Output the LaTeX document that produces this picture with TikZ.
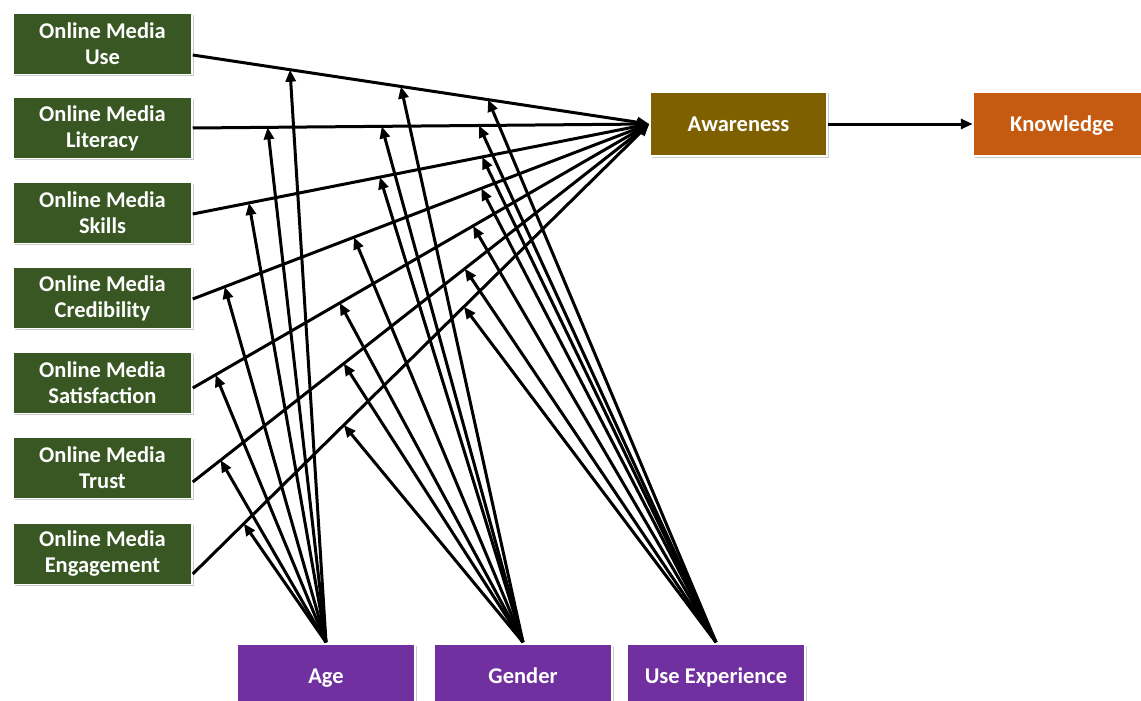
\documentclass[tikz,border=0pt]{standalone}
\usepackage{fontspec}
\setmainfont{Carlito}
\usetikzlibrary{calc,arrows.meta,shadows}
\definecolor{boxgreen}{HTML}{385723}
\definecolor{awbrown}{HTML}{7F6000}
\definecolor{knorange}{HTML}{C55A11}
\definecolor{modpurple}{HTML}{7030A0}
\tikzset{
  box/.style={draw=white, line width=1.5pt, text=white,
    font=\fontsize{22.5}{26}\selectfont\bfseries, align=center, inner sep=0pt,
    drop shadow={shadow xshift=1.5pt, shadow yshift=-1.5pt, fill=black!45, opacity=0.45}},
  factor/.style={box, fill=boxgreen, minimum width=179pt, minimum height=61pt},
  single/.style={box, text height=17pt, text depth=3pt},
  outcome/.style={single, minimum width=177pt, minimum height=64pt},
  moder/.style={single, fill=modpurple, minimum width=178pt, minimum height=64pt},
  arr/.style={line width=3pt, -{Triangle[length=12pt,width=10pt]}},
}
\begin{document}
\begin{tikzpicture}[x=1pt,y=-1pt]
\useasboundingbox (0,0) rectangle (1141,701);
% left factors
\node[factor] (use)  at (102.5,44)  {Online Media\\Use};
\node[factor] (lit)  at (102.5,128) {Online Media\\Literacy};
\node[factor] (ski)  at (102.5,213) {Online Media\\Skills};
\node[factor] (cre)  at (102.5,298) {Online Media\\Credibility};
\node[factor] (sat)  at (102.5,383) {Online Media\\Satisfaction};
\node[factor] (tru)  at (102.5,468) {Online Media\\Trust};
\node[factor] (eng)  at (102.5,554) {Online Media\\Engagement};
% outcomes
\node[outcome, fill=awbrown]  (aw) at (738.5,124) {Awareness};
\node[outcome, fill=knorange] (kn) at (1062,124) {Knowledge};
% moderators
\node[moder] (age) at (326,676) {Age};
\node[moder] (gen) at (523,676) {Gender};
\node[moder] (uex) at (716,676) {Use Experience};

% line starts
\coordinate (sUse) at ([yshift=-11pt]use.east);
\coordinate (sLit) at (lit.east);
\coordinate (sSki) at ([yshift=-1pt]ski.east);
\coordinate (sCre) at ([yshift=-1pt]cre.east);
\coordinate (sSat) at ([yshift=-5pt]sat.east);
\coordinate (sTru) at ([yshift=-14pt]tru.east);
\coordinate (sEng) at ([yshift=-20pt]eng.east);
\coordinate (conv) at (aw.west);

\foreach \s in {Use,Lit,Ski,Cre,Sat,Tru,Eng}{
  \draw[arr] (s\s) -- (conv);
}
\draw[arr] (aw) -- (kn);

% moderator arrows: node, line, fraction along line
\foreach \m/\s/\t in {
  age/Use/0.213, age/Lit/0.164, age/Ski/0.123, age/Cre/0.070, age/Sat/0.050, age/Tru/0.061, age/Eng/0.112,
  gen/Use/0.456, gen/Lit/0.414, gen/Ski/0.410, gen/Cre/0.353, gen/Sat/0.322, gen/Tru/0.331, gen/Eng/0.331,
  uex/Use/0.647, uex/Lit/0.627, uex/Ski/0.634, uex/Cre/0.632, uex/Sat/0.614, uex/Tru/0.596, uex/Eng/0.594}{
  \draw[arr] ([yshift=1pt]\m.north) -- ($(s\s)!\t!(conv)$);
}
\end{tikzpicture}
\end{document}
